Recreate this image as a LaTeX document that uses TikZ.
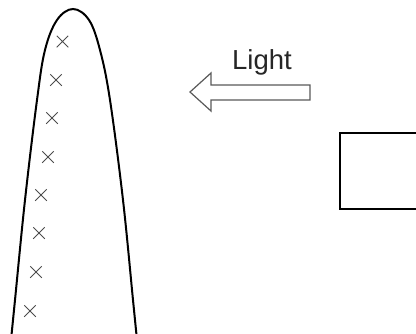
\documentclass[tikz,border=0pt]{standalone}
\usepackage{fontspec}
\setmainfont{Liberation Sans}
\usetikzlibrary{shapes.misc}
\begin{document}
\begin{tikzpicture}[x=1pt,y=-1pt,
  mark cross/.style={cross out, draw=black!70, line width=1pt, minimum size=10.5pt, inner sep=0pt},
  shoot/.style={draw=black, line width=2pt},
  lightarrow/.style={draw=black!65, line width=1.2pt, fill=white, line join=miter},
  label text/.style={font=\fontsize{27.5}{30}\selectfont, text=black!85, inner sep=0pt, anchor=base west},
  boxline/.style={draw=black, line width=2.7pt}]
\useasboundingbox (0,0) rectangle (416,333);
\clip (0,0) rectangle (416,333);
\draw[shoot] plot[smooth, tension=0.6] coordinates {(11,340) (15,300) (25,200) (37,100) (45,50) (57,20) (73,9) (89,20) (100,50) (110,100) (123,200) (133,300) (137,340)};
\node[mark cross] (c1) at (62.5,41.5) {};
\node[mark cross] (c2) at (56,80) {};
\node[mark cross] (c3) at (52,118) {};
\node[mark cross] (c4) at (48,157) {};
\node[mark cross] (c5) at (41,195) {};
\node[mark cross] (c6) at (39,233) {};
\node[mark cross] (c7) at (36,272) {};
\node[mark cross] (c8) at (30,311) {};
\draw[lightarrow] (190,92) -- (211,73) -- (211,85) -- (310,85) -- (310,100) -- (211,100) -- (211,111) -- cycle;
\node[label text] (light) at (232,69) {Light};
\draw[boxline] (430,133) -- (340,133) -- (340,209) -- (430,209);
\end{tikzpicture}
\end{document}
